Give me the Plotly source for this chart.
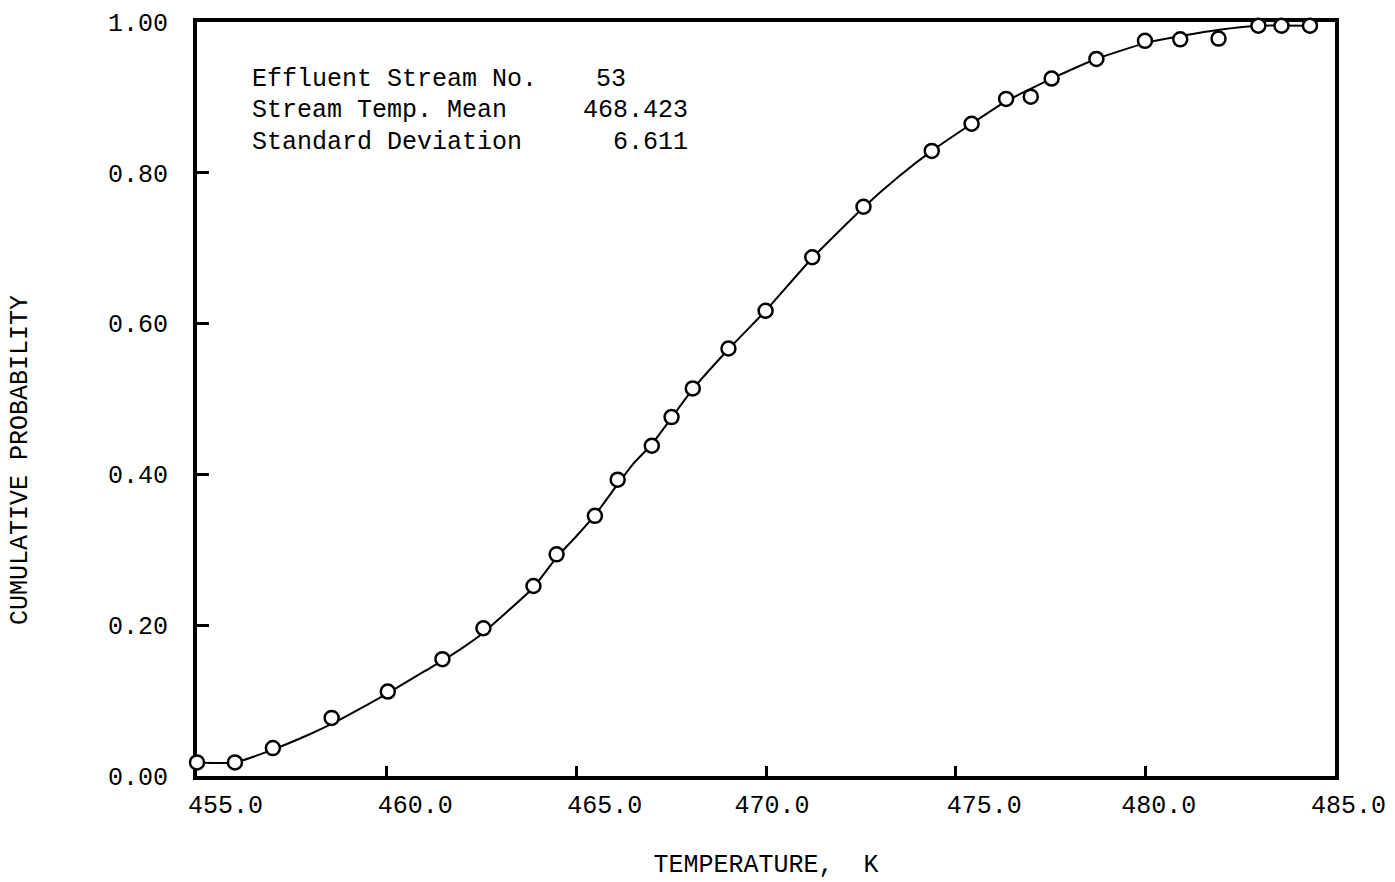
import plotly.graph_objects as go

# ---- data ----
temps = [455.0, 456.0, 457.0, 458.55, 460.03, 461.47, 462.55, 463.87, 464.48, 465.49,
         466.09, 466.99, 467.51, 468.07, 469.01, 469.99, 471.22, 472.57, 474.37, 475.42,
         476.33, 476.98, 477.53, 478.71, 479.99, 480.92, 481.93, 482.98, 483.59, 484.34]
probs = [0.018, 0.018, 0.037, 0.077, 0.112, 0.155, 0.196, 0.252, 0.294, 0.345,
         0.393, 0.438, 0.476, 0.514, 0.567, 0.617, 0.688, 0.755, 0.829, 0.865,
         0.898, 0.901, 0.925, 0.951, 0.975, 0.977, 0.978, 0.995, 0.995, 0.995]

curve_T = [455.0, 456.0, 457.0, 458.0, 458.55, 459.0, 460.0, 461.0, 461.47, 462.0,
           462.55, 463.0, 463.87, 464.48, 465.0, 465.49, 466.09, 466.5, 466.99, 467.51,
           468.07, 469.01, 469.99, 471.22, 472.57, 473.5, 474.37, 475.42, 476.33, 477.0,
           477.53, 478.71, 480.0, 481.0, 482.0, 482.98, 484.34]
curve_p = [0.018, 0.018, 0.035, 0.056, 0.069, 0.081, 0.109, 0.139, 0.153, 0.170,
           0.190, 0.210, 0.250, 0.290, 0.318, 0.346, 0.387, 0.414, 0.440, 0.475,
           0.513, 0.566, 0.617, 0.687, 0.754, 0.795, 0.829, 0.865, 0.895, 0.912,
           0.925, 0.951, 0.972, 0.982, 0.990, 0.995, 0.995]

x_tickvals = [455, 460, 465, 470, 475, 480, 485]
x_ticktext = ["\u00a0\u00a0\u00a0455.0", "\u00a0\u00a0\u00a0460.0", "\u00a0\u00a0\u00a0465.0",
              "470.0", "\u00a0\u00a0\u00a0475.0", "\u00a0480.0", "\u00a0485.0"]
y_tickvals = [0.0, 0.2, 0.4, 0.6, 0.8, 1.0]
y_ticktext = ["0.00", "0.20", "0.40", "0.60", "0.80", "1.00"]

info_labels = ["Effluent Stream No.", "Stream Temp. Mean", "Standard Deviation"]
info_values = ["53", "468.423", "6.611"]

FONT = "Courier New, Courier, Nimbus Mono PS, FreeMono, Liberation Mono, monospace"
FS = 25

fig = go.Figure()
fig.add_trace(go.Scatter(
    x=curve_T, y=curve_p, mode="lines",
    line=dict(color="black", width=2, shape="spline", smoothing=0.5),
    hoverinfo="skip", showlegend=False, cliponaxis=False,
))
fig.add_trace(go.Scatter(
    x=temps, y=probs, mode="markers",
    marker=dict(symbol="circle", size=14, color="white",
                line=dict(color="black", width=2.5)),
    showlegend=False, cliponaxis=False,
))

axis_common = dict(
    showline=True, linewidth=4, linecolor="black", mirror=True,
    ticks="inside", tickcolor="black", tickwidth=3,
    showgrid=False, zeroline=False, layer="below traces",
    tickfont=dict(family=FONT, size=FS, color="black"),
)

fig.update_xaxes(
    range=[455, 485], tickvals=x_tickvals, ticktext=x_ticktext,
    ticklen=10, ticklabelshift=6, ticklabelstandoff=3,
    title=dict(text="TEMPERATURE,\u00a0 K", font=dict(family=FONT, size=FS, color="black"),
               standoff=35),
    **axis_common,
)
fig.update_yaxes(
    range=[0, 1], tickvals=y_tickvals, ticktext=y_ticktext,
    ticklen=12, ticklabelstandoff=20,
    **axis_common,
)

ys = [0.9244, 0.8820, 0.8408]
val_x = [0.3787, 0.4332, 0.4332]
for lab, val, yy, vx in zip(info_labels, info_values, ys, val_x):
    fig.add_annotation(text=lab, xref="paper", yref="paper", x=0.0466, y=yy,
                       xanchor="left", yanchor="middle", showarrow=False,
                       font=dict(family=FONT, size=FS, color="black"))
    fig.add_annotation(text=val, xref="paper", yref="paper", x=vx, y=yy,
                       xanchor="right", yanchor="middle", showarrow=False,
                       font=dict(family=FONT, size=FS, color="black"))

fig.add_annotation(text="CUMULATIVE PROBABILITY", xref="paper", yref="paper",
                   x=-0.1555, y=0.419, textangle=-90, xanchor="center", yanchor="middle",
                   showarrow=False, font=dict(family=FONT, size=FS, color="black"))

fig.update_layout(
    width=1395, height=882,
    margin=dict(l=197, r=60, t=22, b=106, autoexpand=False),
    paper_bgcolor="white", plot_bgcolor="white",
    showlegend=False,
)

fig.write_html("out.html", config={"displayModeBar": False},
               post_script="document.body.style.margin='0';document.body.style.overflow='hidden';")
